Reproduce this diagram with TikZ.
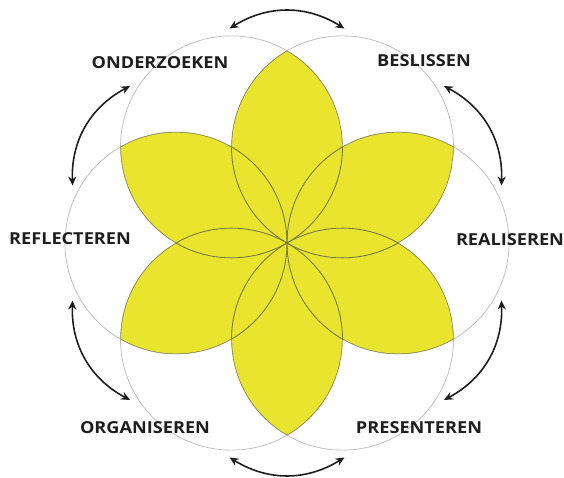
\documentclass[tikz,border=0pt]{standalone}
\usepackage{fontspec}
\setmainfont{Open Sans}
\usetikzlibrary{arrows.meta}
\definecolor{petal}{RGB}{233,228,45}
\definecolor{ring}{RGB}{185,185,192}
\definecolor{vein}{RGB}{125,122,40}
\definecolor{ink}{RGB}{30,30,30}
\newcommand\wide[1]{\scalebox{1.1}[1]{#1}}
\tikzset{
  lab/.style={font=\fontsize{16.5}{19}\selectfont\bfseries, text=ink, inner sep=0pt},
  arr/.style={ink, line width=1.6pt, {Stealth[length=9pt,width=8pt]}-{Stealth[length=9pt,width=8pt]}},
  ringline/.style={ring, line width=0.7pt},
  veinline/.style={vein, line width=0.8pt}
}
\newcommand\petalpath[1]{(0,0) arc[start angle=#1+180, end angle=#1+60, radius=111] arc[start angle=#1+360, end angle=#1+240, radius=111] -- cycle}
\begin{document}
\begin{tikzpicture}[x=1pt,y=1pt]
\useasboundingbox (-287,-235) rectangle (277,243);
% petals
\fill[petal] \petalpath{0} \petalpath{60} \petalpath{120} \petalpath{180} \petalpath{240} \petalpath{300};
% circles
\foreach \a in {0,60,...,300}{
  \draw[ringline] (\a:111) circle[radius=111];
}
\begin{scope}
  \clip \petalpath{0} \petalpath{60} \petalpath{120} \petalpath{180} \petalpath{240} \petalpath{300};
  \foreach \a in {0,60,...,300}{
    \draw[veinline] (\a:111) circle[radius=111];
  }
\end{scope}
% labels
\node[lab] (onderzoeken) at (-127,180) {\wide{ONDERZOEKEN}};
\node[lab] (beslissen)   at (137,182)  {\wide{BESLISSEN}};
\node[lab] (reflecteren) at (-217,4)   {\wide{REFLECTEREN}};
\node[lab] (realiseren)  at (223,3)    {\wide{REALISEREN}};
\node[lab] (organiseren) at (-142,-185) {\wide{ORGANISEREN}};
\node[lab] (presenteren) at (132,-185) {\wide{PRESENTEREN}};
% arrows
\foreach \c [count=\i] in {90,30,-30,-90,-150,150}{
  \coordinate (s\i) at (\c+15:222);
  \coordinate (e\i) at (\c-15:222);
  \draw[arr] (s\i) to[bend left=32] (e\i);
}
\end{tikzpicture}
\end{document}
